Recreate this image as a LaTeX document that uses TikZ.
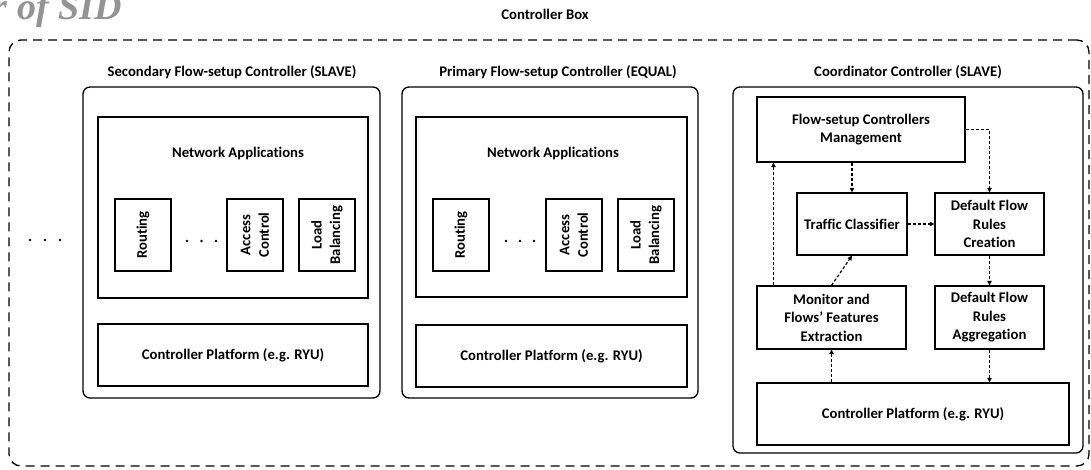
\documentclass[tikz,border=0pt]{standalone}
\usepackage{fontspec}
\setmainfont{Carlito}[Ligatures=CommonOff]
\newfontfamily\titleserif{Liberation Serif}
\usetikzlibrary{arrows.meta}
\tikzset{
  lbl/.style={font=\bfseries\fontsize{14.7}{18.5}\selectfont, align=center, inner sep=0pt},
  ctrl/.style={draw, line width=1.3pt, rounded corners=7pt, inner sep=0pt},
  blk/.style={draw, line width=1.3pt, inner sep=0pt, lbl},
  app/.style={blk, minimum width=56pt, minimum height=72pt},
  vtext/.style={rotate=90},
  flow/.style={line width=1.2pt, dash pattern=on 3pt off 2pt,
    -{Triangle[length=4.5pt,width=4.5pt]}},
  dotmark/.style={circle, fill, inner sep=0pt, minimum size=2.6pt},
}
\begin{document}
\begin{tikzpicture}[x=1pt,y=-1pt]
\useasboundingbox (0,0) rectangle (1091,470);

% heading fragment at the top left
\node[anchor=base east, inner sep=0pt, text=black!42,
  font=\titleserif\bfseries\itshape\fontsize{38}{40}\selectfont] (head) at (122,20) {r of SID};

% outer dashed container
\node[draw, line width=1.3pt, dash pattern=on 9pt off 6pt, rounded corners=12pt,
  minimum width=1080pt, minimum height=426pt] (cbox) at (549,253) {};
\node[lbl] (cboxlbl) at (545,14) {Controller Box};

% dots standing for further controllers
\node[dotmark] (ld1) at (30,240) {};
\node[dotmark] (ld2) at (45,240) {};
\node[dotmark] (ld3) at (60,240) {};

% ---------- secondary flow-setup controller ----------
\node[lbl] (sectitle) at (232,72) {Secondary Flow-setup Controller (SLAVE)};
\node[ctrl, minimum width=297pt, minimum height=311pt] (sec) at (231.5,242.5) {};
\node[blk, minimum width=270pt, minimum height=181pt] (secnet) at (233,207.5) {};
\node[lbl] (secnetlbl) at (238,154) {Network Applications};
\node[app] (secrt) at (143,235) {};
\node[lbl, vtext] at (secrt) {Routing};
\node[app] (secac) at (255,235) {};
\node[lbl, vtext] at (secac) {Access\\Control};
\node[app] (seclb) at (327,235) {};
\node[lbl, vtext] at (seclb) {Load\\Balancing};
\node[dotmark] (sd1) at (187,241) {};
\node[dotmark] (sd2) at (201.5,241) {};
\node[dotmark] (sd3) at (216,241) {};
\node[blk, minimum width=270pt, minimum height=62pt] (secpf) at (233,355) {Controller Platform (e.g. RYU)};

% ---------- primary flow-setup controller ----------
\node[lbl] (pritile) at (558,72) {Primary Flow-setup Controller (EQUAL)};
\node[ctrl, minimum width=296pt, minimum height=311pt] (pri) at (550,242.5) {};
\node[blk, minimum width=271pt, minimum height=180pt] (prinet) at (551.5,207) {};
\node[lbl] (prinetlbl) at (553,154) {Network Applications};
\node[app] (prirt) at (461,235) {};
\node[lbl, vtext] at (prirt) {Routing};
\node[app] (priac) at (574,235) {};
\node[lbl, vtext] at (priac) {Access\\Control};
\node[app] (prilb) at (646,235) {};
\node[lbl, vtext] at (prilb) {Load\\Balancing};
\node[dotmark] (pd1) at (506,241) {};
\node[dotmark] (pd2) at (520,241) {};
\node[dotmark] (pd3) at (534,241) {};
\node[blk, minimum width=271pt, minimum height=62pt] (pripf) at (551.5,356) {Controller Platform (e.g. RYU)};

% ---------- coordinator controller ----------
\node[lbl] (coortitle) at (908,72) {Coordinator Controller (SLAVE)};
\node[ctrl, minimum width=350pt, minimum height=366pt] (coor) at (908,270) {};
\node[blk, minimum width=208pt, minimum height=65pt] (fscm) at (861,129.5) {Flow-setup Controllers\\Management};
\node[blk, minimum width=110pt, minimum height=62pt] (tc) at (852,224) {Traffic Classifier};
\node[blk, minimum width=109pt, minimum height=62pt] (dfrc) at (989.5,224) {Default Flow\\Rules\\Creation};
\node[blk, minimum width=149pt, minimum height=63pt] (mon) at (831.5,317.5) {Monitor and\\Flows’ Features\\Extraction};
\node[blk, minimum width=109pt, minimum height=63pt] (dfra) at (989.5,317.5) {Default Flow\\Rules\\Aggregation};
\node[blk, minimum width=312pt, minimum height=62pt] (coorpf) at (913,414) {Controller Platform (e.g. RYU)};

% flows inside the coordinator
\draw[flow] (fscm.south -| tc.north) -- (tc.north);
\draw[flow] (fscm.east) -| (dfrc.north);
\draw[flow] (tc.east) -- (dfrc.west);
\draw[flow] (dfrc.south) -- (dfra.north);
\draw[flow] (dfra.south) -- (dfra.south |- coorpf.north);
\draw[flow] (coorpf.north -| mon.south) -- (mon.south);
\draw[flow] (mon.north) -- (tc.south);
\draw[flow] ([xshift=-58pt]mon.north) -- ([xshift=-58pt]mon.north |- fscm.south);
\end{tikzpicture}
\end{document}
